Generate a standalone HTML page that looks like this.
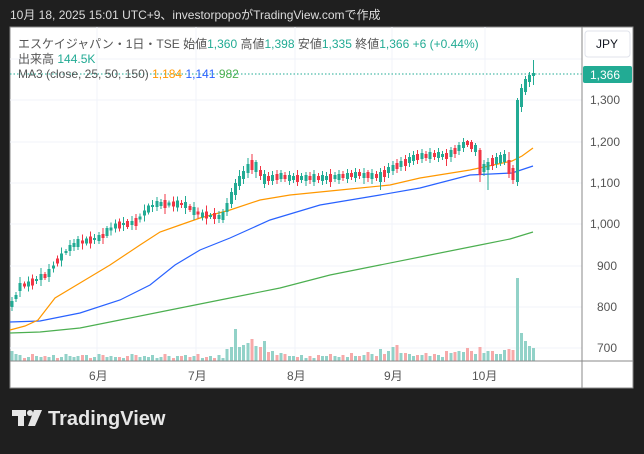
<!DOCTYPE html>
<html><head><meta charset="utf-8"><style>
body{margin:0;width:644px;height:449px;background:#1f1f1f;overflow:hidden;font-family:"Liberation Sans","Noto Sans CJK JP",sans-serif}
</style></head><body>
<svg width="644" height="449" xmlns="http://www.w3.org/2000/svg" font-family="Liberation Sans, Noto Sans CJK JP, sans-serif">
<rect width="644" height="449" fill="#1f1f1f"/>
<text x="10" y="19" font-size="12" fill="#dcdcdc">10月 18, 2025 15:01 UTC+9、investorpopoがTradingView.comで作成</text>
<rect x="10" y="27" width="623" height="361" fill="#fff" stroke="#888" stroke-width="1"/>
<g stroke="#f0f3fa" stroke-width="1">
<line x1="10" x2="582" y1="100" y2="100"/><line x1="10" x2="582" y1="142" y2="142"/><line x1="10" x2="582" y1="183" y2="183"/><line x1="10" x2="582" y1="224" y2="224"/><line x1="10" x2="582" y1="266" y2="266"/><line x1="10" x2="582" y1="307" y2="307"/><line x1="10" x2="582" y1="348" y2="348"/><line x1="10" x2="582" y1="59" y2="59"/>
<line x1="97" x2="97" y1="27" y2="361"/><line x1="196" x2="196" y1="27" y2="361"/><line x1="295" x2="295" y1="27" y2="361"/><line x1="392" x2="392" y1="27" y2="361"/><line x1="485" x2="485" y1="27" y2="361"/>
</g>
<path fill="none" stroke="#92d2c8" stroke-width="3" d="M12 361V351M16 361V354M20 361V355M28.5 361V357M36.5 361V356M41 361V357M49 361V357M53.5 361V355M61.5 361V357M66 361V354M70 361V356M74 361V357M78 361V356M86.5 361V355M94.5 361V357M99 361V354M107 361V357M111 361V356M115.5 361V357M123.5 361V358M132 361V354M140 361V357M144.5 361V356M148.5 361V357M152.5 361V355M157 361V358M161 361V357M169 361V356M177.5 361V356M185.5 361V355M194 361V356M202.5 361V358M210.5 361V356M219 361V355M223 361V358M227 361V349M231.5 361V347M235.5 361V329M239.5 361V347M243.5 361V345M248 361V343M256 361V346M264.5 361V341M272.5 361V351M281 361V353M289.5 361V356M293.5 361V356M301.5 361V355M306 361V358M314 361V358M322.5 361V356M326.5 361V356M335 361V356M339 361V357M347.5 361V357M355.5 361V356M364 361V355M372 361V354M380.5 361V349M388.5 361V351M393 361V347M401 361V353M409.5 361V354M413.5 361V356M422 361V355M430 361V356M438.5 361V355M442.5 361V357M451 361V353M459 361V351M463.5 361V352M475.5 361V354M484 361V353M488 361V351M496.5 361V354M500.5 361V354M504.5 361V350M517.5 361V278M521.5 361V333M525.5 361V341M529.5 361V346M533.5 361V348"/>
<path fill="none" stroke="#f7a9a9" stroke-width="3" d="M24.5 361V358M32.5 361V354M45 361V356M57.5 361V358M82.5 361V355M90.5 361V358M103 361V355M119.5 361V357M127.5 361V356M136 361V355M165 361V354M173.5 361V358M181.5 361V356M190 361V357M198 361V354M206.5 361V357M214.5 361V358M252 361V339M260.5 361V347M268.5 361V352M277 361V355M285 361V354M297.5 361V357M310 361V356M318.5 361V355M330.5 361V354M343 361V355M351.5 361V353M359.5 361V356M368 361V352M376.5 361V356M384.5 361V354M397 361V345M405.5 361V353M417.5 361V355M426 361V353M434.5 361V354M446.5 361V351M455 361V352M467.5 361V348M471.5 361V351M480 361V347M492.5 361V351M509 361V349M513 361V350"/>
<polyline fill="none" stroke="#4caf50" stroke-width="1.2" points="10,333 40,332 80,328 120,320 170,310 220,300 280,288 330,275 380,265 430,255 480,245 510,239 533,232"/>
<polyline fill="none" stroke="#2962ff" stroke-width="1.2" points="10,322 40,321 80,313 120,300 150,285 175,265 200,250 230,238 270,220 320,205 380,195 420,188 470,175 512,173 533,166"/>
<polyline fill="none" stroke="#ff9800" stroke-width="1.2" points="10,330 25,326 38,320 55,298 85,280 110,265 140,245 160,232 180,225 200,218 230,210 260,200 290,195 340,190 390,185 420,178 470,170 512,161 522,156 533,148"/>
<path fill="none" stroke="#22ab94" stroke-width="1" d="M12 297V311M16 292V302M20 277V297M28.5 276.5V291.5M36.5 276V284M41 268V286M49 264V282M53.5 261.5V272.5M61.5 247.5V266.5M66 249V255M70 240V256M74 239V251M78 236V250M86.5 236.5V245.5M94.5 234V244M99 232V244M107 226V238M111 222.5V235.5M115.5 219.5V232.5M123.5 217V231M132 216V230M140 213.5V222.5M144.5 204.5V221.5M148.5 203.5V214.5M152.5 200V212M157 197V211M161 199V209M169 200.5V207.5M177.5 196.5V211.5M185.5 196V214M194 202V220M202.5 209.5V220.5M210.5 213V219M219 211V223M223 209V223M227 198V216M231.5 188V208M235.5 179V200M239.5 170V190M243.5 166V184M248 158V178M256 160V178M264.5 170V188M272.5 171V185M281 170V182M289.5 171V185M293.5 173V183M301.5 173V183M306 172V186M314 170V186M322.5 171V185M326.5 172V184M335 172V182M339 170V184M347.5 169V183M355.5 168V182M364 168V184M372 169V184M380.5 168V190M388.5 163V178M393 161V175M401 157V171M409.5 153V167M413.5 151V165M422 149V163M430 148V163M438.5 148V162M442.5 151V160M451 147V162M459 142V155M463.5 138V152M475.5 143V156M484 160V176M488 158V190M496.5 153V168M500.5 152V166M504.5 150V165M517.5 98V186M521.5 84V112M525.5 76V95M529.5 72V87M533.5 60V85"/>
<path fill="none" stroke="#22ab94" stroke-width="3" d="M12 301V307M16 295V299M20 283V291M28.5 281.5V286.5M36.5 279V281M41 274V280M49 269V277M53.5 265.5V268.5M61.5 253.5V260.5M66 251V253M70 245V251M74 243V247M78 239V247M86.5 238.5V243.5M94.5 238V240M99 235V241M107 228V236M111 227.5V230.5M115.5 223.5V228.5M123.5 223V225M132 221V225M140 216.5V219.5M144.5 210.5V215.5M148.5 205.5V212.5M152.5 205V207M157 201V207M161 202V206M169 202.5V205.5M177.5 200.5V207.5M185.5 202V208M194 207V215M202.5 212.5V217.5M210.5 215V217M219 215V219M223 212V220M227 203V212M231.5 192V204M235.5 183V195M239.5 176V186M243.5 171V179M248 164V173M256 162V172M264.5 174V184M272.5 175V181M281 173V179M289.5 175V181M293.5 176V180M301.5 176V180M306 175V181M314 174V182M322.5 175V181M326.5 176V180M335 175V179M339 174V180M347.5 173V179M355.5 172V178M364 173V178M372 173V179M380.5 172V182M388.5 167V173M393 165V171M401 161V167M409.5 157V163M413.5 155V161M422 153V159M430 152V159M438.5 152V158M442.5 154V157M451 150V157M459 145V151M463.5 142V148M475.5 145V152M484 164V172M488 162V170M496.5 157V164M500.5 155V163M504.5 154V162M517.5 100V182M521.5 88V107M525.5 79V92M529.5 75V82M533.5 73V76"/>
<path fill="none" stroke="#f23645" stroke-width="1" d="M24.5 281.5V288.5M32.5 274.5V289.5M45 272V280M57.5 255.5V266.5M82.5 234.5V249.5M90.5 231.5V248.5M103 228V244M119.5 218.5V231.5M127.5 219V229M136 214V230M165 194V214M173.5 196.5V211.5M181.5 200V208M190 204V212M198 207.5V218.5M206.5 205.5V224.5M214.5 208V224M252 154V174M260.5 166V180M268.5 172V185M277 170V184M285 172V182M297.5 170V186M310 172V184M318.5 173V183M330.5 169V187M343 171V181M351.5 170V180M359.5 169V179M368 170V182M376.5 171V181M384.5 166V182M397 159V173M405.5 155V171M417.5 150V164M426 151V161M434.5 150V160M446.5 149V166M455 145V158M467.5 140V147M471.5 140V152M480 148V182M492.5 155V170M509 152V178M513 165V184"/>
<path fill="none" stroke="#f23645" stroke-width="3" d="M24.5 283.5V286.5M32.5 278.5V285.5M45 274V278M57.5 258.5V263.5M82.5 240.5V243.5M90.5 236.5V243.5M103 234V238M119.5 221.5V228.5M127.5 221V227M136 218V226M165 200V208M173.5 201.5V206.5M181.5 203V205M190 206V210M198 211.5V214.5M206.5 211.5V218.5M214.5 213V219M252 160V170M260.5 170V176M268.5 176V181M277 174V180M285 175V179M297.5 175V182M310 176V180M318.5 176V180M330.5 174V182M343 174V178M351.5 173V177M359.5 172V176M368 172V178M376.5 174V178M384.5 170V177M397 163V169M405.5 159V166M417.5 154V160M426 154V158M434.5 153V157M446.5 153V159M455 148V154M467.5 141V145M471.5 142V149M480 150V175M492.5 158V166M509 160V174M513 168V180"/>
<line x1="10" x2="582" y1="74" y2="74" stroke="#22ab94" stroke-dasharray="1.5,2" stroke-width="1"/>
<line x1="582" x2="582" y1="27" y2="388" stroke="#888"/>
<line x1="10" x2="633" y1="361" y2="361" stroke="#888"/>
<g font-size="12" fill="#555">
<text x="590" y="104">1,300</text><text x="590" y="146">1,200</text><text x="590" y="187">1,100</text><text x="590" y="228">1,000</text><text x="597" y="270">900</text><text x="597" y="311">800</text><text x="597" y="352">700</text>
<text x="89" y="380">6月</text><text x="188" y="380">7月</text><text x="287" y="380">8月</text><text x="384" y="380">9月</text><text x="472" y="380">10月</text>
</g>
<rect x="585" y="31" width="45" height="26" rx="3" fill="#fff" stroke="#e0e3eb"/>
<text x="596" y="48" font-size="12" fill="#131722">JPY</text>
<rect x="583" y="66" width="49" height="17" rx="2" fill="#22ab94"/>
<text x="590" y="79" font-size="12" fill="#fff">1,366</text>
<g font-size="12">
<text x="18" y="48" fill="#555">エスケイジャパン・1日・TSE  始値<tspan fill="#22ab94">1,360</tspan>  高値<tspan fill="#22ab94">1,398</tspan>  安値<tspan fill="#22ab94">1,335</tspan>  終値<tspan fill="#22ab94">1,366  +6 (+0.44%)</tspan></text>
<text x="18" y="63" fill="#555">出来高  <tspan fill="#22ab94">144.5K</tspan></text>
<text x="18" y="78" fill="#555">MA3 (close, 25, 50, 150)  <tspan fill="#ff9800">1,184</tspan>  <tspan fill="#2962ff">1,141</tspan>  <tspan fill="#4caf50">982</tspan></text>
</g>
<g fill="#e6e6e6">
<rect x="12" y="410" width="14" height="6"/><rect x="18" y="410" width="6" height="16"/><circle cx="30" cy="413" r="3"/><polygon points="34,410 42,410 35,426 28,426"/>
<text x="48" y="425" font-size="20" font-weight="bold">TradingView</text>
</g>
</svg>
</body></html>
